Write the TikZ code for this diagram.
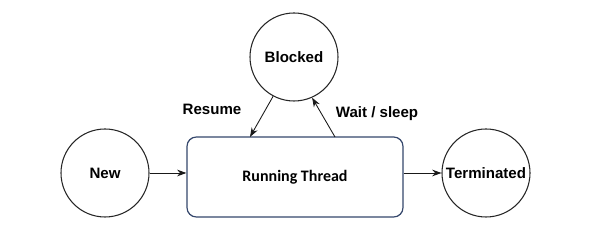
\documentclass[tikz,border=0pt]{standalone}
\usepackage{fontspec}
\setmainfont{Liberation Sans}
\newfontfamily\procfont{Carlito}
\usepackage{xcolor}
\usetikzlibrary{arrows.meta}
\definecolor{boxline}{HTML}{34466B}

\begin{document}
\begin{tikzpicture}[x=0.75pt,y=-0.75pt,>={Stealth[length=7pt,width=5pt]},
font=\fontsize{11.3}{13}\selectfont\bfseries,
state/.style={draw=black!85,line width=0.8pt,circle,minimum size=66pt,inner sep=0pt,align=center},
proc/.style={draw=boxline,line width=0.9pt,rounded corners=7pt,minimum width=162pt,minimum height=60pt,align=center,
  font=\procfont\fontsize{12}{14}\selectfont\bfseries},
lab/.style={align=center,inner sep=1pt},
edge/.style={->,line width=0.65pt,draw=black!90}]
\useasboundingbox (0,0) rectangle (600,241);
\node[state] (blocked) at (294,57) {Blocked};
\node[state] (new) at (105,173) {New};
\node[proc] (run) at (295,177) {Running Thread};
\node[state] (term) at (486,173) {Terminated};
\coordinate (rin) at (250,137);
\coordinate (wout) at (335,137);
\draw[edge] (new.east)--(new.east-|run.west);
\draw[edge] (run.east|-term.west)--(term.west);
\draw[edge] (blocked.242)--(rin);
\node[lab] at (212,109) {Resume};
\draw[edge] (wout)--(blocked.294);
\node[lab] at (377,114) {Wait / sleep};
\end{tikzpicture}
\end{document}
